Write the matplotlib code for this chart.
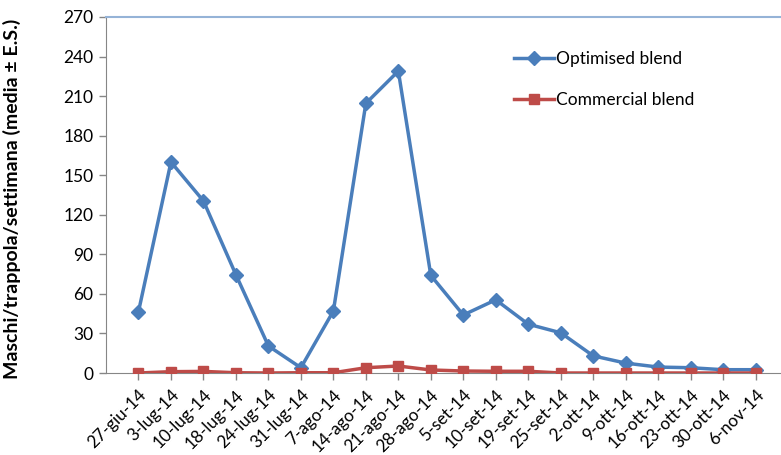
import matplotlib
matplotlib.use("Agg")
import matplotlib.pyplot as plt
from matplotlib.ticker import MultipleLocator

plt.rcParams['font.family'] = ['Lato', 'DejaVu Sans']

dates = ["27-giu-14", "3-lug-14", "10-lug-14", "18-lug-14", "24-lug-14",
         "31-lug-14", "7-ago-14", "14-ago-14", "21-ago-14", "28-ago-14",
         "5-set-14", "10-set-14", "19-set-14", "25-set-14", "2-ott-14",
         "9-ott-14", "16-ott-14", "23-ott-14", "30-ott-14", "6-nov-14"]
optimised = [46.5, 160, 130.5, 74.5, 20.5, 4, 47, 204.5, 229, 74,
             44, 55.5, 37, 30.5, 13, 7.5, 4.5, 4, 2.5, 2.5]
commercial = [0, 1, 1.2, 0.2, 0, 0.2, 0.2, 4, 5.3, 2.3,
              1.5, 1.3, 1.3, 0, 0, 0, 0, 0, 0, 0]

blue = "#4A7EBB"
red = "#BE4B48"

W, H = 781, 455
fig = plt.figure(figsize=(W / 100, H / 100), dpi=100)
ax = fig.add_axes([106 / W, 1 - 373 / H, (780 - 106) / W, (373 - 17) / H])

x = list(range(len(dates)))
ax.plot(x, optimised, color=blue, lw=2.5, marker="D", ms=7,
        label="Optimised blend", zorder=3)
ax.plot(x, commercial, color=red, lw=2.5, marker="s", ms=7,
        label="Commercial blend", zorder=3)

ax.set_xlim(-1, 19.75)
ax.set_ylim(0, 270)
ax.yaxis.set_major_locator(MultipleLocator(30))
ax.set_xticks(x)
ax.set_xticklabels(dates, rotation=45, ha="right", rotation_mode="anchor",
                   fontsize=12.3)
ax.tick_params(axis="y", labelsize=12.5, length=5, color="#868686", width=1,
               pad=4)
ax.tick_params(axis="x", length=5, color="#868686", width=1, pad=5)

ax.spines["right"].set_visible(False)
ax.spines["top"].set_color("#95B3D7")
ax.spines["top"].set_linewidth(1.5)
ax.spines["left"].set_color("#868686")
ax.spines["bottom"].set_color("#868686")

ax.set_ylabel("Maschi/trappola/settimana (media ± E.S.)", fontsize=14,
              fontweight="bold")
ax.yaxis.set_label_coords((21 - 106) / 674, 0.49)

ax.legend(loc="upper left", bbox_to_anchor=(514 / W, 1 - 51 / H),
          bbox_transform=fig.transFigure, frameon=False,
          fontsize=12.5, labelspacing=1.45, handlelength=2.3,
          handletextpad=0.1, borderpad=0, borderaxespad=0)

fig.savefig("out.png", dpi=100)
